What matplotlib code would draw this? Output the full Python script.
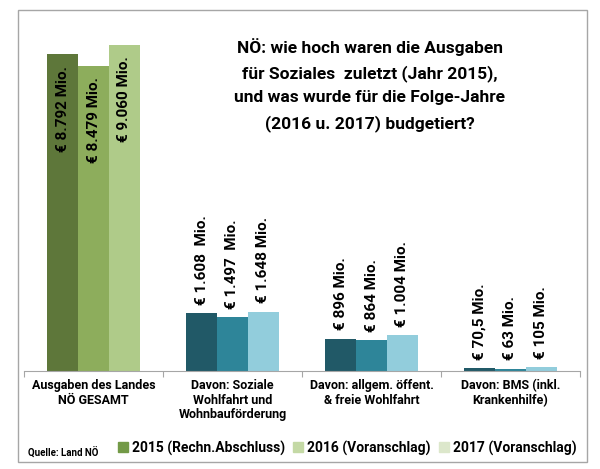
import matplotlib
matplotlib.use('Agg')
import matplotlib.pyplot as plt
from matplotlib.patches import Patch, Rectangle

plt.rcParams['font.family'] = ['Roboto', 'DejaVu Sans']
plt.rcParams['font.weight'] = 'bold'

categories = ['Ausgaben des Landes\nNÖ GESAMT',
              'Davon: Soziale\nWohlfahrt und\nWohnbauförderung',
              'Davon: allgem. öffent.\n& freie Wohlfahrt',
              'Davon: BMS (inkl.\nKrankenhilfe)']
series = ['2015 (Rechn.Abschluss)', '2016 (Voranschlag)', '2017 (Voranschlag)']
v2015 = [8792, 1608, 896, 70.5]
v2016 = [8479, 1497, 864, 63]
v2017 = [9060, 1648, 1004, 105]
lbl2015 = ['€ 8.792 Mio.', '€ 1.608  Mio.', '€ 896 Mio.', '€ 70,5 Mio.']
lbl2016 = ['€ 8.479 Mio.', '€ 1.497  Mio.', '€ 864 Mio.', '€ 63 Mio.']
lbl2017 = ['€ 9.060 Mio.', '€ 1.648 Mio.', '€ 1.004 Mio.', '€ 105 Mio.']

green = ['#5E773A', '#8DAD5C', '#AFCB89']
teal = ['#215967', '#2E8599', '#92CDDC']
legend_colors = ['#739A47', '#C4D9A5', '#DCE7CB']

fig = plt.figure(figsize=(6, 4.69), dpi=100)
fig.patches.append(Rectangle((18 / 600, 1 - 462 / 469), 569 / 600, 452 / 469,
                             transform=fig.transFigure, fill=False,
                             edgecolor='#A6A6A6', lw=1))
ax = fig.add_axes([24 / 600, 1 - 371 / 469, 556 / 600, 360 / 469])

w = 0.223
values = [v2015, v2016, v2017]
labels = [lbl2015, lbl2016, lbl2017]
for s in range(3):
    for i in range(4):
        col = green[s] if i == 0 else teal[s]
        x = i + (s - 1) * w
        ax.bar(x, values[s][i], width=w, color=col, linewidth=0)
        if i == 0:
            ax.annotate(labels[s][i], (x, values[s][i]), xytext=(0, -8),
                        textcoords='offset points', rotation=90,
                        ha='center', va='top', fontsize=11, fontweight='bold')
        else:
            ax.annotate(labels[s][i], (x, values[s][i]), xytext=(0, 6),
                        textcoords='offset points', rotation=90,
                        ha='center', va='bottom', fontsize=11, fontweight='bold')

ax.set_xlim(-0.5, 3.5)
ax.set_ylim(0, 10000)
for sp in ['left', 'right', 'top']:
    ax.spines[sp].set_visible(False)
ax.spines['bottom'].set_color('#A6A6A6')
ax.set_yticks([])
ax.set_xticks([-0.5, 0.5, 1.5, 2.5, 3.5])
ax.set_xticklabels([])
ax.tick_params(axis='x', which='major', length=4, color='#A6A6A6')
ax.set_xticks(range(4), minor=True)
ax.set_xticklabels(categories, minor=True, fontsize=9, fontweight='bold',
                   linespacing=1.15, va='top')
ax.tick_params(axis='x', which='minor', length=0, pad=6)

fig.text(370 / 600, 1 - 38 / 469,
         'NÖ: wie hoch waren die Ausgaben\nfür Soziales  zuletzt (Jahr 2015),\n'
         'und was wurde für die Folge-Jahre\n(2016 u. 2017) budgetiert?',
         ha='center', va='top', fontsize=12.5, fontweight='bold', linespacing=1.7)

fig.text(28 / 600, 1 - 452 / 469, 'Quelle: Land NÖ', fontsize=7,
         fontweight='bold', va='center')

handles = [Patch(color=c) for c in legend_colors]
fig.legend(handles, series, loc='center left',
           bbox_to_anchor=(118 / 600, 1 - 448 / 469), ncol=3, frameon=False,
           prop={'size': 10, 'weight': 'bold'}, handlelength=0.7,
           handleheight=0.7, handletextpad=0.3, columnspacing=0.6,
           borderaxespad=0, borderpad=0)

fig.savefig('out.png', dpi=100)
